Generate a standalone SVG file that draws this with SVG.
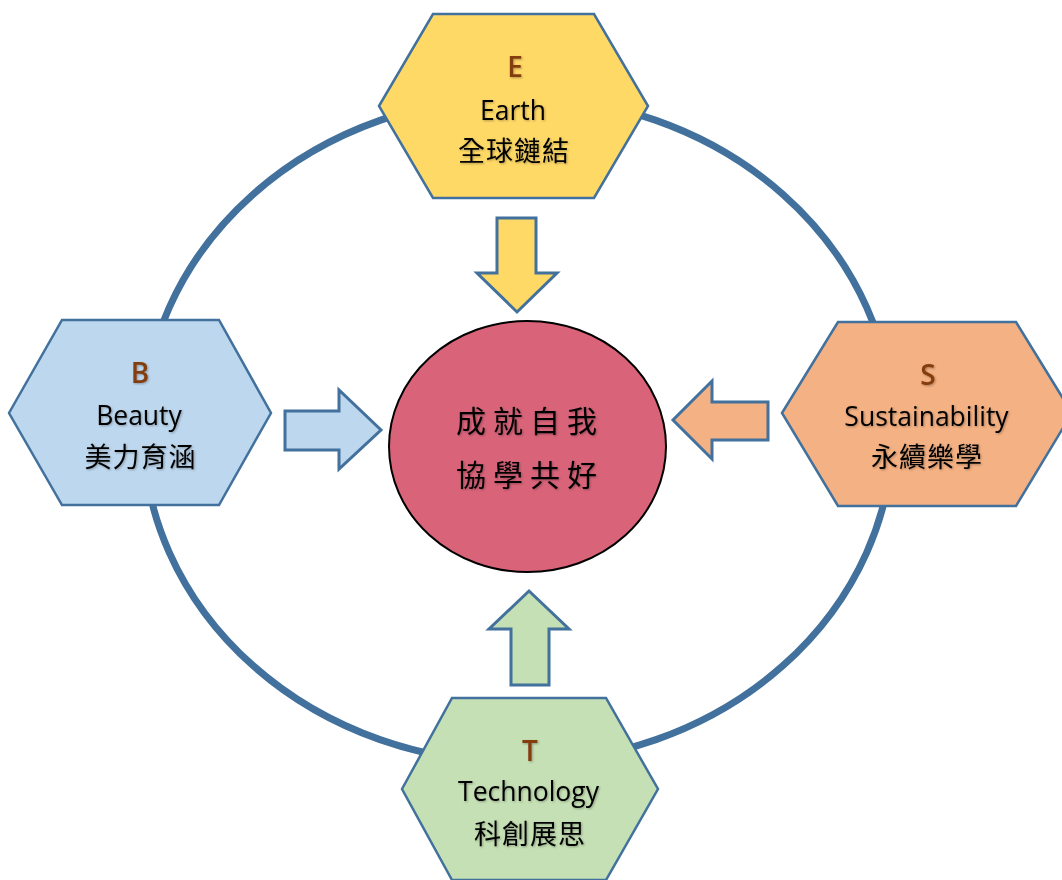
<svg xmlns="http://www.w3.org/2000/svg" width="1062" height="880" viewBox="0 0 1062 880">
<defs>
<style>
.hex{stroke:#41719C;stroke-width:2.5;stroke-linejoin:miter}
.arr{stroke:#41719C;stroke-width:3;stroke-linejoin:miter}
.ltr{font-family:"Open Sans","Noto Sans",sans-serif;font-weight:600;font-size:28px;fill:#843C0C;text-anchor:middle}
.en{font-family:"Open Sans","Noto Sans",sans-serif;font-size:26.5px;fill:#000;text-anchor:middle}
.zh{font-family:"Noto Sans CJK TC","Noto Sans CJK SC",sans-serif;font-size:27px;fill:#000;text-anchor:middle;letter-spacing:1px}
.ctr{font-family:"Noto Sans CJK TC","Noto Sans CJK SC",serif;font-size:30px;fill:#000;text-anchor:middle;letter-spacing:7px}
</style>
<filter id="sh" x="-10%" y="-20%" width="120%" height="140%">
<feDropShadow dx="1" dy="1" stdDeviation="1" flood-color="#000" flood-opacity="0.3"/>
</filter>
</defs>
<rect width="1062" height="880" fill="#FFFFFF"/>
<g id="ring">
<ellipse cx="518" cy="430" rx="375" ry="333" fill="none" stroke="#41719C" stroke-width="7"/>
</g>
<g id="connectors">
<polygon class="arr" fill="#FFD966" points="497,218 536,218 536,273 557,273 517,312 477,273 497,273"/>
<polygon class="arr" fill="#BDD7EE" points="285,411 339,411 339,390 381,430 339,469 339,450 285,450"/>
<polygon class="arr" fill="#F4B183" points="768,402 712,402 712,381 673,420 712,459 712,440 768,440"/>
<polygon class="arr" fill="#C5E0B4" points="511,685 549,685 549,629 569,629 529,591 489,629 511,629"/>
</g>
<g id="node-earth">
<polygon class="hex" fill="#FFD966" points="379,106 433,14 594,14 648,106 594,198 433,198"/>
<g filter="url(#sh)">
<text class="ltr" x="515" y="77">E</text>
<text class="en" x="513" y="120">Earth</text>
<text class="zh" x="514" y="161">全球鏈結</text>
</g>
</g>
<g id="node-beauty">
<polygon class="hex" fill="#BDD7EE" points="9,413 62,320 219,320 271,413 219,505 62,505"/>
<g filter="url(#sh)">
<text class="ltr" x="140" y="383">B</text>
<text class="en" x="139" y="425">Beauty</text>
<text class="zh" x="140.5" y="467">美力育涵</text>
</g>
</g>
<g id="node-sustainability">
<polygon class="hex" fill="#F4B183" points="782,413 838,322 1016,322 1072,413 1016,506 838,506"/>
<g filter="url(#sh)">
<text class="ltr" x="928" y="385">S</text>
<text class="en" x="926.5" y="426">Sustainability</text>
<text class="zh" x="927" y="467">永續樂學</text>
</g>
</g>
<g id="node-technology">
<polygon class="hex" fill="#C5E0B4" points="402,789 452,698 606,698 658,789 606,880 452,880"/>
<g filter="url(#sh)">
<text class="ltr" x="530" y="761">T</text>
<text class="en" x="528.5" y="801">Technology</text>
<text class="zh" x="530" y="844">科創展思</text>
</g>
</g>
<g id="node-center">
<ellipse cx="527.5" cy="446.5" rx="138.5" ry="125.5" fill="#D9647A" stroke="#000" stroke-width="2"/>
<g filter="url(#sh)">
<text class="ctr" x="530" y="432">成就自我</text>
<text class="ctr" x="530" y="486">協學共好</text>
</g>
</g>
</svg>
